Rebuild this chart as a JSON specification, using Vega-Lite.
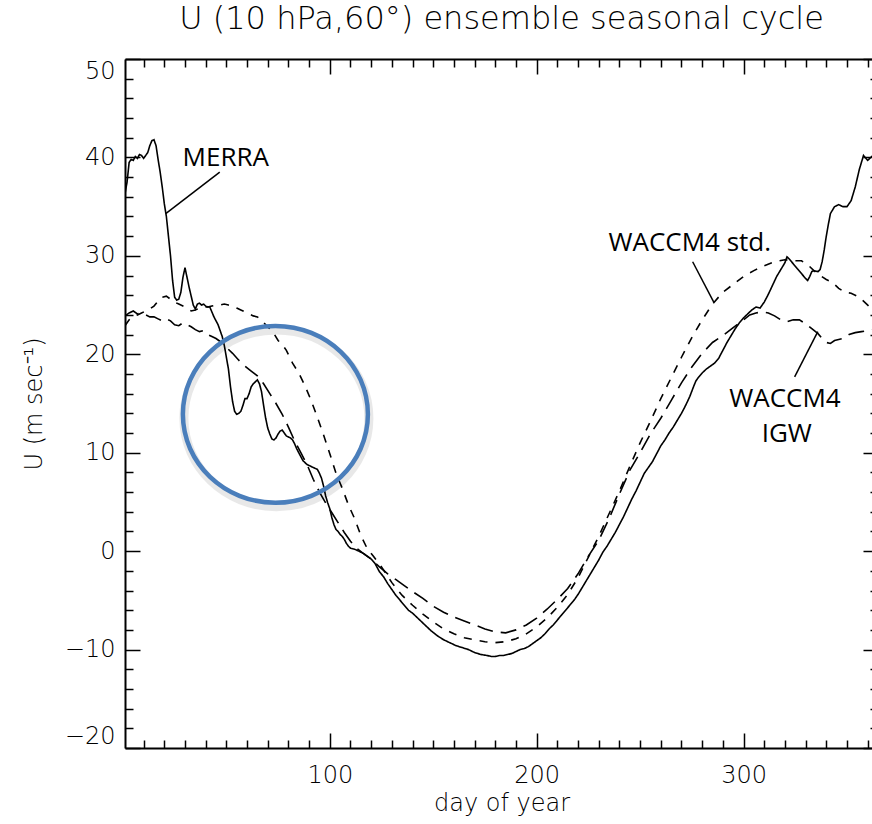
{
  "$schema": "https://vega.github.io/schema/vega-lite/v6.json",
  "autosize": {"type": "none"},
  "padding": {"left": 125, "top": 59, "right": 0, "bottom": 76},
  "width": 753,
  "height": 689,
  "background": "white",
  "title": {
    "text": "U (10 hPa,60°) ensemble seasonal cycle",
    "font": "DejaVu Sans",
    "fontSize": 32,
    "fontWeight": 200,
    "color": "black",
    "anchor": "middle",
    "frame": "group",
    "baseline": "alphabetic",
    "offset": -3
  },
  "config": {
    "view": {"stroke": null},
    "axis": {
      "domainColor": "black",
      "domainWidth": 2,
      "tickColor": "black",
      "tickWidth": 1.5,
      "labelColor": "black",
      "labelFont": "DejaVu Sans",
      "labelFontWeight": 200,
      "labelFontSize": 24,
      "titleFont": "DejaVu Sans",
      "titleFontWeight": 200,
      "titleFontSize": 24,
      "titleColor": "black",
      "grid": false
    }
  },
  "datasets": {
    "curves": [
      {"series": "MERRA", "day": 1, "u": 36.3}, {"series": "MERRA", "day": 2, "u": 37.5}, {"series": "MERRA", "day": 3, "u": 39.5}, {"series": "MERRA", "day": 4, "u": 39.8}, {"series": "MERRA", "day": 5, "u": 39.7}, {"series": "MERRA", "day": 6, "u": 40.1}, {"series": "MERRA", "day": 7, "u": 39.9}, {"series": "MERRA", "day": 8, "u": 40.3}, {"series": "MERRA", "day": 9, "u": 40.2}, {"series": "MERRA", "day": 10, "u": 39.9}, {"series": "MERRA", "day": 11, "u": 40.2}, {"series": "MERRA", "day": 12, "u": 40.5}, {"series": "MERRA", "day": 13, "u": 41.2}, {"series": "MERRA", "day": 14, "u": 41.7}, {"series": "MERRA", "day": 15, "u": 41.8}, {"series": "MERRA", "day": 16, "u": 41.2}, {"series": "MERRA", "day": 17, "u": 39.8}, {"series": "MERRA", "day": 18, "u": 38.5}, {"series": "MERRA", "day": 19, "u": 37.0}, {"series": "MERRA", "day": 20, "u": 35.3}, {"series": "MERRA", "day": 21, "u": 34.0}, {"series": "MERRA", "day": 22, "u": 32.0}, {"series": "MERRA", "day": 23, "u": 30.0}, {"series": "MERRA", "day": 24, "u": 27.5}, {"series": "MERRA", "day": 25, "u": 25.8}, {"series": "MERRA", "day": 26, "u": 25.5}, {"series": "MERRA", "day": 27, "u": 25.6}, {"series": "MERRA", "day": 28, "u": 26.3}, {"series": "MERRA", "day": 29, "u": 27.8}, {"series": "MERRA", "day": 30, "u": 28.8}, {"series": "MERRA", "day": 31, "u": 27.8}, {"series": "MERRA", "day": 32, "u": 26.8}, {"series": "MERRA", "day": 33, "u": 25.9}, {"series": "MERRA", "day": 34, "u": 25.0}, {"series": "MERRA", "day": 35, "u": 24.6}, {"series": "MERRA", "day": 36, "u": 25.1}, {"series": "MERRA", "day": 37, "u": 25.2}, {"series": "MERRA", "day": 38, "u": 25.0}, {"series": "MERRA", "day": 39, "u": 25.1}, {"series": "MERRA", "day": 40, "u": 24.9}, {"series": "MERRA", "day": 41, "u": 24.8}, {"series": "MERRA", "day": 42, "u": 24.8}, {"series": "MERRA", "day": 43, "u": 24.3}, {"series": "MERRA", "day": 44, "u": 23.8}, {"series": "MERRA", "day": 45, "u": 23.4}, {"series": "MERRA", "day": 46, "u": 23.0}, {"series": "MERRA", "day": 47, "u": 22.4}, {"series": "MERRA", "day": 48, "u": 21.8}, {"series": "MERRA", "day": 49, "u": 20.9}, {"series": "MERRA", "day": 50, "u": 19.7}, {"series": "MERRA", "day": 51, "u": 18.5}, {"series": "MERRA", "day": 52, "u": 16.7}, {"series": "MERRA", "day": 53, "u": 15.2}, {"series": "MERRA", "day": 54, "u": 14.2}, {"series": "MERRA", "day": 55, "u": 13.9}, {"series": "MERRA", "day": 56, "u": 14.0}, {"series": "MERRA", "day": 57, "u": 14.2}, {"series": "MERRA", "day": 58, "u": 14.8}, {"series": "MERRA", "day": 59, "u": 15.5}, {"series": "MERRA", "day": 60, "u": 15.5}, {"series": "MERRA", "day": 61, "u": 16.0}, {"series": "MERRA", "day": 62, "u": 16.7}, {"series": "MERRA", "day": 63, "u": 17.0}, {"series": "MERRA", "day": 64, "u": 17.2}, {"series": "MERRA", "day": 65, "u": 17.4}, {"series": "MERRA", "day": 66, "u": 17.0}, {"series": "MERRA", "day": 67, "u": 16.2}, {"series": "MERRA", "day": 68, "u": 14.8}, {"series": "MERRA", "day": 69, "u": 13.5}, {"series": "MERRA", "day": 70, "u": 12.5}, {"series": "MERRA", "day": 71, "u": 11.9}, {"series": "MERRA", "day": 72, "u": 11.4}, {"series": "MERRA", "day": 73, "u": 11.3}, {"series": "MERRA", "day": 74, "u": 11.5}, {"series": "MERRA", "day": 75, "u": 11.9}, {"series": "MERRA", "day": 76, "u": 12.2}, {"series": "MERRA", "day": 77, "u": 12.3}, {"series": "MERRA", "day": 78, "u": 12.0}, {"series": "MERRA", "day": 79, "u": 11.7}, {"series": "MERRA", "day": 80, "u": 11.6}, {"series": "MERRA", "day": 81, "u": 11.5}, {"series": "MERRA", "day": 82, "u": 11.3}, {"series": "MERRA", "day": 83, "u": 10.9}, {"series": "MERRA", "day": 84, "u": 10.4}, {"series": "MERRA", "day": 85, "u": 10.0}, {"series": "MERRA", "day": 86, "u": 9.6}, {"series": "MERRA", "day": 87, "u": 9.2}, {"series": "MERRA", "day": 88, "u": 9.0}, {"series": "MERRA", "day": 89, "u": 8.8}, {"series": "MERRA", "day": 90, "u": 8.7}, {"series": "MERRA", "day": 92, "u": 8.5}, {"series": "MERRA", "day": 94, "u": 8.3}, {"series": "MERRA", "day": 95, "u": 7.9}, {"series": "MERRA", "day": 96, "u": 7.4}, {"series": "MERRA", "day": 97, "u": 6.6}, {"series": "MERRA", "day": 98, "u": 5.6}, {"series": "MERRA", "day": 99, "u": 4.9}, {"series": "MERRA", "day": 100, "u": 4.3}, {"series": "MERRA", "day": 101, "u": 3.4}, {"series": "MERRA", "day": 102, "u": 2.7}, {"series": "MERRA", "day": 103, "u": 2.2}, {"series": "MERRA", "day": 104, "u": 2.0}, {"series": "MERRA", "day": 105, "u": 1.7}, {"series": "MERRA", "day": 106, "u": 1.5}, {"series": "MERRA", "day": 107, "u": 1.2}, {"series": "MERRA", "day": 108, "u": 0.8}, {"series": "MERRA", "day": 109, "u": 0.5}, {"series": "MERRA", "day": 110, "u": 0.3}, {"series": "MERRA", "day": 112, "u": 0.2}, {"series": "MERRA", "day": 114, "u": 0.0}, {"series": "MERRA", "day": 116, "u": -0.2}, {"series": "MERRA", "day": 118, "u": -0.5}, {"series": "MERRA", "day": 120, "u": -0.8}, {"series": "MERRA", "day": 122, "u": -1.3}, {"series": "MERRA", "day": 124, "u": -2.1}, {"series": "MERRA", "day": 126, "u": -2.6}, {"series": "MERRA", "day": 128, "u": -3.3}, {"series": "MERRA", "day": 130, "u": -3.9}, {"series": "MERRA", "day": 132, "u": -4.5}, {"series": "MERRA", "day": 134, "u": -5.0}, {"series": "MERRA", "day": 136, "u": -5.5}, {"series": "MERRA", "day": 138, "u": -6.0}, {"series": "MERRA", "day": 140, "u": -6.3}, {"series": "MERRA", "day": 143, "u": -6.9}, {"series": "MERRA", "day": 146, "u": -7.5}, {"series": "MERRA", "day": 149, "u": -8.1}, {"series": "MERRA", "day": 152, "u": -8.6}, {"series": "MERRA", "day": 155, "u": -9.0}, {"series": "MERRA", "day": 158, "u": -9.3}, {"series": "MERRA", "day": 161, "u": -9.6}, {"series": "MERRA", "day": 164, "u": -9.8}, {"series": "MERRA", "day": 167, "u": -10.0}, {"series": "MERRA", "day": 170, "u": -10.3}, {"series": "MERRA", "day": 173, "u": -10.5}, {"series": "MERRA", "day": 176, "u": -10.6}, {"series": "MERRA", "day": 178, "u": -10.7}, {"series": "MERRA", "day": 180, "u": -10.7}, {"series": "MERRA", "day": 182, "u": -10.6}, {"series": "MERRA", "day": 184, "u": -10.6}, {"series": "MERRA", "day": 186, "u": -10.5}, {"series": "MERRA", "day": 188, "u": -10.4}, {"series": "MERRA", "day": 190, "u": -10.2}, {"series": "MERRA", "day": 192, "u": -10.0}, {"series": "MERRA", "day": 194, "u": -9.9}, {"series": "MERRA", "day": 196, "u": -9.7}, {"series": "MERRA", "day": 198, "u": -9.4}, {"series": "MERRA", "day": 200, "u": -9.1}, {"series": "MERRA", "day": 202, "u": -8.8}, {"series": "MERRA", "day": 204, "u": -8.4}, {"series": "MERRA", "day": 206, "u": -7.9}, {"series": "MERRA", "day": 208, "u": -7.5}, {"series": "MERRA", "day": 210, "u": -7.0}, {"series": "MERRA", "day": 212, "u": -6.5}, {"series": "MERRA", "day": 214, "u": -6.0}, {"series": "MERRA", "day": 216, "u": -5.5}, {"series": "MERRA", "day": 218, "u": -5.0}, {"series": "MERRA", "day": 220, "u": -4.4}, {"series": "MERRA", "day": 222, "u": -3.7}, {"series": "MERRA", "day": 224, "u": -3.0}, {"series": "MERRA", "day": 226, "u": -2.3}, {"series": "MERRA", "day": 228, "u": -1.6}, {"series": "MERRA", "day": 230, "u": -0.9}, {"series": "MERRA", "day": 232, "u": -0.1}, {"series": "MERRA", "day": 234, "u": 0.5}, {"series": "MERRA", "day": 236, "u": 1.2}, {"series": "MERRA", "day": 238, "u": 1.9}, {"series": "MERRA", "day": 240, "u": 2.7}, {"series": "MERRA", "day": 242, "u": 3.5}, {"series": "MERRA", "day": 244, "u": 4.4}, {"series": "MERRA", "day": 246, "u": 5.3}, {"series": "MERRA", "day": 248, "u": 6.1}, {"series": "MERRA", "day": 250, "u": 7.0}, {"series": "MERRA", "day": 252, "u": 7.9}, {"series": "MERRA", "day": 254, "u": 8.5}, {"series": "MERRA", "day": 256, "u": 9.1}, {"series": "MERRA", "day": 258, "u": 9.9}, {"series": "MERRA", "day": 260, "u": 10.7}, {"series": "MERRA", "day": 262, "u": 11.3}, {"series": "MERRA", "day": 264, "u": 12.0}, {"series": "MERRA", "day": 266, "u": 12.6}, {"series": "MERRA", "day": 268, "u": 13.3}, {"series": "MERRA", "day": 270, "u": 14.0}, {"series": "MERRA", "day": 272, "u": 14.8}, {"series": "MERRA", "day": 274, "u": 15.7}, {"series": "MERRA", "day": 276, "u": 16.8}, {"series": "MERRA", "day": 277, "u": 17.3}, {"series": "MERRA", "day": 278, "u": 17.6}, {"series": "MERRA", "day": 280, "u": 18.1}, {"series": "MERRA", "day": 282, "u": 18.5}, {"series": "MERRA", "day": 284, "u": 18.8}, {"series": "MERRA", "day": 286, "u": 19.1}, {"series": "MERRA", "day": 288, "u": 19.6}, {"series": "MERRA", "day": 290, "u": 20.4}, {"series": "MERRA", "day": 292, "u": 21.2}, {"series": "MERRA", "day": 294, "u": 21.9}, {"series": "MERRA", "day": 296, "u": 22.6}, {"series": "MERRA", "day": 298, "u": 23.2}, {"series": "MERRA", "day": 300, "u": 23.7}, {"series": "MERRA", "day": 302, "u": 24.1}, {"series": "MERRA", "day": 304, "u": 24.5}, {"series": "MERRA", "day": 306, "u": 24.8}, {"series": "MERRA", "day": 308, "u": 24.7}, {"series": "MERRA", "day": 310, "u": 25.3}, {"series": "MERRA", "day": 312, "u": 26.1}, {"series": "MERRA", "day": 314, "u": 27.0}, {"series": "MERRA", "day": 316, "u": 27.9}, {"series": "MERRA", "day": 318, "u": 28.6}, {"series": "MERRA", "day": 320, "u": 29.3}, {"series": "MERRA", "day": 321, "u": 29.9}, {"series": "MERRA", "day": 322, "u": 29.7}, {"series": "MERRA", "day": 324, "u": 29.2}, {"series": "MERRA", "day": 326, "u": 28.7}, {"series": "MERRA", "day": 328, "u": 28.2}, {"series": "MERRA", "day": 330, "u": 27.7}, {"series": "MERRA", "day": 331, "u": 27.5}, {"series": "MERRA", "day": 332, "u": 27.9}, {"series": "MERRA", "day": 333, "u": 28.4}, {"series": "MERRA", "day": 334, "u": 28.5}, {"series": "MERRA", "day": 336, "u": 28.4}, {"series": "MERRA", "day": 337, "u": 28.6}, {"series": "MERRA", "day": 338, "u": 29.4}, {"series": "MERRA", "day": 339, "u": 30.6}, {"series": "MERRA", "day": 340, "u": 32.0}, {"series": "MERRA", "day": 341, "u": 33.2}, {"series": "MERRA", "day": 342, "u": 34.3}, {"series": "MERRA", "day": 344, "u": 35.0}, {"series": "MERRA", "day": 346, "u": 35.2}, {"series": "MERRA", "day": 348, "u": 35.0}, {"series": "MERRA", "day": 350, "u": 35.0}, {"series": "MERRA", "day": 352, "u": 35.6}, {"series": "MERRA", "day": 354, "u": 37.0}, {"series": "MERRA", "day": 356, "u": 38.8}, {"series": "MERRA", "day": 358, "u": 40.2}, {"series": "MERRA", "day": 360, "u": 39.7}, {"series": "MERRA", "day": 362, "u": 40.1}, {"series": "MERRA", "day": 365, "u": 40.0},
      {"series": "IGW", "day": 1, "u": 23.9}, {"series": "IGW", "day": 3, "u": 24.2}, {"series": "IGW", "day": 5, "u": 24.4}, {"series": "IGW", "day": 7, "u": 24.1}, {"series": "IGW", "day": 9, "u": 24.2}, {"series": "IGW", "day": 11, "u": 24.0}, {"series": "IGW", "day": 13, "u": 23.8}, {"series": "IGW", "day": 15, "u": 23.8}, {"series": "IGW", "day": 17, "u": 23.6}, {"series": "IGW", "day": 19, "u": 23.4}, {"series": "IGW", "day": 21, "u": 23.6}, {"series": "IGW", "day": 23, "u": 23.4}, {"series": "IGW", "day": 25, "u": 23.0}, {"series": "IGW", "day": 27, "u": 22.9}, {"series": "IGW", "day": 29, "u": 23.2}, {"series": "IGW", "day": 31, "u": 23.0}, {"series": "IGW", "day": 33, "u": 22.8}, {"series": "IGW", "day": 35, "u": 22.5}, {"series": "IGW", "day": 37, "u": 22.3}, {"series": "IGW", "day": 39, "u": 22.4}, {"series": "IGW", "day": 41, "u": 22.0}, {"series": "IGW", "day": 43, "u": 21.8}, {"series": "IGW", "day": 45, "u": 21.6}, {"series": "IGW", "day": 47, "u": 21.3}, {"series": "IGW", "day": 50, "u": 20.7}, {"series": "IGW", "day": 53, "u": 20.1}, {"series": "IGW", "day": 56, "u": 19.4}, {"series": "IGW", "day": 59, "u": 18.8}, {"series": "IGW", "day": 62, "u": 18.3}, {"series": "IGW", "day": 65, "u": 17.8}, {"series": "IGW", "day": 68, "u": 17.0}, {"series": "IGW", "day": 71, "u": 16.0}, {"series": "IGW", "day": 74, "u": 15.0}, {"series": "IGW", "day": 77, "u": 13.9}, {"series": "IGW", "day": 80, "u": 12.6}, {"series": "IGW", "day": 83, "u": 11.2}, {"series": "IGW", "day": 86, "u": 10.0}, {"series": "IGW", "day": 89, "u": 8.8}, {"series": "IGW", "day": 92, "u": 7.3}, {"series": "IGW", "day": 95, "u": 6.0}, {"series": "IGW", "day": 98, "u": 4.9}, {"series": "IGW", "day": 101, "u": 3.9}, {"series": "IGW", "day": 104, "u": 2.9}, {"series": "IGW", "day": 107, "u": 1.9}, {"series": "IGW", "day": 110, "u": 1.0}, {"series": "IGW", "day": 113, "u": 0.3}, {"series": "IGW", "day": 116, "u": -0.2}, {"series": "IGW", "day": 120, "u": -0.8}, {"series": "IGW", "day": 124, "u": -1.6}, {"series": "IGW", "day": 128, "u": -2.3}, {"series": "IGW", "day": 132, "u": -2.9}, {"series": "IGW", "day": 136, "u": -3.5}, {"series": "IGW", "day": 140, "u": -4.1}, {"series": "IGW", "day": 145, "u": -4.8}, {"series": "IGW", "day": 150, "u": -5.6}, {"series": "IGW", "day": 155, "u": -6.2}, {"series": "IGW", "day": 160, "u": -6.7}, {"series": "IGW", "day": 165, "u": -7.1}, {"series": "IGW", "day": 170, "u": -7.5}, {"series": "IGW", "day": 175, "u": -7.9}, {"series": "IGW", "day": 180, "u": -8.2}, {"series": "IGW", "day": 185, "u": -8.3}, {"series": "IGW", "day": 190, "u": -8.0}, {"series": "IGW", "day": 195, "u": -7.5}, {"series": "IGW", "day": 200, "u": -6.8}, {"series": "IGW", "day": 205, "u": -5.9}, {"series": "IGW", "day": 210, "u": -4.9}, {"series": "IGW", "day": 215, "u": -3.8}, {"series": "IGW", "day": 220, "u": -2.3}, {"series": "IGW", "day": 225, "u": -0.5}, {"series": "IGW", "day": 230, "u": 1.1}, {"series": "IGW", "day": 235, "u": 3.3}, {"series": "IGW", "day": 240, "u": 5.8}, {"series": "IGW", "day": 245, "u": 8.2}, {"series": "IGW", "day": 250, "u": 10.0}, {"series": "IGW", "day": 255, "u": 11.9}, {"series": "IGW", "day": 260, "u": 13.5}, {"series": "IGW", "day": 265, "u": 15.3}, {"series": "IGW", "day": 270, "u": 17.1}, {"series": "IGW", "day": 275, "u": 18.7}, {"series": "IGW", "day": 280, "u": 20.1}, {"series": "IGW", "day": 285, "u": 21.2}, {"series": "IGW", "day": 290, "u": 21.9}, {"series": "IGW", "day": 295, "u": 22.7}, {"series": "IGW", "day": 300, "u": 23.5}, {"series": "IGW", "day": 303, "u": 24.0}, {"series": "IGW", "day": 306, "u": 24.2}, {"series": "IGW", "day": 309, "u": 24.3}, {"series": "IGW", "day": 312, "u": 24.2}, {"series": "IGW", "day": 315, "u": 23.9}, {"series": "IGW", "day": 318, "u": 23.5}, {"series": "IGW", "day": 321, "u": 23.3}, {"series": "IGW", "day": 324, "u": 23.5}, {"series": "IGW", "day": 327, "u": 23.5}, {"series": "IGW", "day": 330, "u": 23.1}, {"series": "IGW", "day": 333, "u": 22.6}, {"series": "IGW", "day": 336, "u": 22.1}, {"series": "IGW", "day": 338, "u": 21.6}, {"series": "IGW", "day": 340, "u": 21.2}, {"series": "IGW", "day": 342, "u": 21.1}, {"series": "IGW", "day": 344, "u": 21.4}, {"series": "IGW", "day": 346, "u": 21.5}, {"series": "IGW", "day": 348, "u": 21.6}, {"series": "IGW", "day": 351, "u": 22.0}, {"series": "IGW", "day": 354, "u": 22.2}, {"series": "IGW", "day": 357, "u": 22.3}, {"series": "IGW", "day": 360, "u": 22.4}, {"series": "IGW", "day": 365, "u": 22.6},
      {"series": "std", "day": 1, "u": 22.9}, {"series": "std", "day": 3, "u": 23.5}, {"series": "std", "day": 5, "u": 23.8}, {"series": "std", "day": 7, "u": 24.0}, {"series": "std", "day": 9, "u": 24.2}, {"series": "std", "day": 11, "u": 24.4}, {"series": "std", "day": 13, "u": 24.6}, {"series": "std", "day": 15, "u": 24.9}, {"series": "std", "day": 17, "u": 25.4}, {"series": "std", "day": 19, "u": 25.8}, {"series": "std", "day": 21, "u": 25.9}, {"series": "std", "day": 23, "u": 25.6}, {"series": "std", "day": 25, "u": 25.3}, {"series": "std", "day": 27, "u": 25.1}, {"series": "std", "day": 29, "u": 24.9}, {"series": "std", "day": 31, "u": 24.7}, {"series": "std", "day": 33, "u": 24.4}, {"series": "std", "day": 35, "u": 24.5}, {"series": "std", "day": 37, "u": 24.7}, {"series": "std", "day": 39, "u": 24.8}, {"series": "std", "day": 41, "u": 24.8}, {"series": "std", "day": 43, "u": 24.9}, {"series": "std", "day": 45, "u": 25.0}, {"series": "std", "day": 47, "u": 25.0}, {"series": "std", "day": 49, "u": 25.1}, {"series": "std", "day": 51, "u": 25.0}, {"series": "std", "day": 53, "u": 24.9}, {"series": "std", "day": 55, "u": 24.7}, {"series": "std", "day": 57, "u": 24.5}, {"series": "std", "day": 59, "u": 24.3}, {"series": "std", "day": 61, "u": 24.1}, {"series": "std", "day": 63, "u": 23.9}, {"series": "std", "day": 65, "u": 23.8}, {"series": "std", "day": 67, "u": 23.5}, {"series": "std", "day": 69, "u": 23.0}, {"series": "std", "day": 71, "u": 22.6}, {"series": "std", "day": 73, "u": 22.1}, {"series": "std", "day": 75, "u": 21.4}, {"series": "std", "day": 77, "u": 21.0}, {"series": "std", "day": 79, "u": 20.4}, {"series": "std", "day": 82, "u": 19.1}, {"series": "std", "day": 85, "u": 18.1}, {"series": "std", "day": 88, "u": 16.8}, {"series": "std", "day": 91, "u": 15.3}, {"series": "std", "day": 94, "u": 13.6}, {"series": "std", "day": 97, "u": 11.8}, {"series": "std", "day": 100, "u": 9.9}, {"series": "std", "day": 103, "u": 7.9}, {"series": "std", "day": 106, "u": 6.4}, {"series": "std", "day": 109, "u": 4.7}, {"series": "std", "day": 112, "u": 3.3}, {"series": "std", "day": 115, "u": 1.6}, {"series": "std", "day": 118, "u": 0.3}, {"series": "std", "day": 121, "u": -0.5}, {"series": "std", "day": 125, "u": -1.6}, {"series": "std", "day": 130, "u": -3.2}, {"series": "std", "day": 135, "u": -4.5}, {"series": "std", "day": 140, "u": -5.5}, {"series": "std", "day": 145, "u": -6.4}, {"series": "std", "day": 150, "u": -7.2}, {"series": "std", "day": 155, "u": -7.9}, {"series": "std", "day": 160, "u": -8.4}, {"series": "std", "day": 165, "u": -8.8}, {"series": "std", "day": 170, "u": -9.0}, {"series": "std", "day": 175, "u": -9.2}, {"series": "std", "day": 180, "u": -9.3}, {"series": "std", "day": 185, "u": -9.2}, {"series": "std", "day": 190, "u": -8.9}, {"series": "std", "day": 195, "u": -8.4}, {"series": "std", "day": 200, "u": -7.7}, {"series": "std", "day": 205, "u": -6.8}, {"series": "std", "day": 210, "u": -5.7}, {"series": "std", "day": 215, "u": -4.4}, {"series": "std", "day": 220, "u": -2.7}, {"series": "std", "day": 225, "u": -0.6}, {"series": "std", "day": 230, "u": 1.5}, {"series": "std", "day": 235, "u": 3.8}, {"series": "std", "day": 240, "u": 6.1}, {"series": "std", "day": 245, "u": 8.6}, {"series": "std", "day": 250, "u": 11.0}, {"series": "std", "day": 255, "u": 13.2}, {"series": "std", "day": 260, "u": 15.5}, {"series": "std", "day": 265, "u": 17.6}, {"series": "std", "day": 270, "u": 19.7}, {"series": "std", "day": 275, "u": 21.7}, {"series": "std", "day": 280, "u": 23.5}, {"series": "std", "day": 285, "u": 25.1}, {"series": "std", "day": 290, "u": 26.3}, {"series": "std", "day": 295, "u": 27.1}, {"series": "std", "day": 300, "u": 27.9}, {"series": "std", "day": 305, "u": 28.5}, {"series": "std", "day": 310, "u": 29.0}, {"series": "std", "day": 315, "u": 29.4}, {"series": "std", "day": 320, "u": 29.6}, {"series": "std", "day": 325, "u": 29.5}, {"series": "std", "day": 328, "u": 29.5}, {"series": "std", "day": 331, "u": 29.1}, {"series": "std", "day": 334, "u": 28.5}, {"series": "std", "day": 337, "u": 28.0}, {"series": "std", "day": 340, "u": 27.6}, {"series": "std", "day": 343, "u": 27.3}, {"series": "std", "day": 346, "u": 26.7}, {"series": "std", "day": 349, "u": 26.3}, {"series": "std", "day": 352, "u": 26.2}, {"series": "std", "day": 355, "u": 25.9}, {"series": "std", "day": 358, "u": 25.4}, {"series": "std", "day": 361, "u": 24.8}, {"series": "std", "day": 365, "u": 24.5}
    ],
    "leaders": [
      {"x": 46.8, "y": 38.5, "x2": 20.7, "y2": 34.3},
      {"x": 275.4, "y": 29.4, "x2": 285.6, "y2": 25.3},
      {"x": 324.7, "y": 17.7, "x2": 335.9, "y2": 22.3}
    ],
    "labels": [
      {"x": 49.7, "y": 39.9, "text": "MERRA"},
      {"x": 274, "y": 31.3, "text": "WACCM4 std."},
      {"x": 320, "y": 15.5, "text": "WACCM4"},
      {"x": 320.9, "y": 11.9, "text": "IGW"}
    ],
    "circle": [{"x": 73.7, "y": 13.9}]
  },
  "layer": [
    {
      "data": {"name": "circle"},
      "mark": {"type": "point", "shape": "M-1,0A1,0.956,0,1,1,1,0A1,0.956,0,1,1,-1,0Z", "size": 34225, "filled": false, "stroke": "#9a9a9a", "strokeWidth": 9, "opacity": 0.22, "yOffset": 4, "xOffset": 1},
      "encoding": {
        "x": {"field": "x", "type": "quantitative", "axis": null},
        "y": {"field": "y", "type": "quantitative", "axis": null}
      }
    },
    {
      "data": {"name": "curves"},
      "mark": {"type": "line", "color": "black", "strokeWidth": 1.6, "clip": true},
      "encoding": {
        "x": {
          "field": "day", "type": "quantitative",
          "scale": {"domain": [1, 365], "nice": false, "zero": false},
          "axis": {
            "orient": "bottom",
            "title": "day of year",
            "titlePadding": 4,
            "values": [10,20,30,40,50,60,70,80,90,100,110,120,130,140,150,160,170,180,190,200,210,220,230,240,250,260,270,280,290,300,310,320,330,340,350,360],
            "tickSize": {"condition": {"test": "datum.value % 100 === 0", "value": -15}, "value": -8},
            "labelExpr": "datum.value % 100 === 0 ? datum.label : ''",
            "labelPadding": 30
          }
        },
        "y": {
          "field": "u", "type": "quantitative",
          "scale": {"domain": [-20, 50], "nice": false, "zero": false},
          "axis": {
            "orient": "left",
            "title": "U (m sec⁻¹)",
            "titlePadding": 18,
            "values": [-20,-18,-16,-14,-12,-10,-8,-6,-4,-2,0,2,4,6,8,10,12,14,16,18,20,22,24,26,28,30,32,34,36,38,40,42,44,46,48,50],
            "tickSize": {"condition": {"test": "datum.value % 10 === 0", "value": -15}, "value": -8},
            "labelExpr": "datum.value % 10 === 0 ? datum.label : ''",
            "labelFlush": true,
            "labelPadding": 25
          }
        },
        "strokeDash": {
          "field": "series", "type": "nominal",
          "scale": {"domain": ["MERRA", "IGW", "std"], "range": [[1, 0], [16, 8], [8, 8]]},
          "legend": null
        },
        "detail": {"field": "series"}
      }
    },
    {
      "data": {"name": "leaders"},
      "mark": {"type": "rule", "color": "black", "strokeWidth": 1.5},
      "encoding": {
        "x": {"field": "x", "type": "quantitative", "axis": {"orient": "top", "title": null, "labels": false, "values": [10,20,30,40,50,60,70,80,90,100,110,120,130,140,150,160,170,180,190,200,210,220,230,240,250,260,270,280,290,300,310,320,330,340,350,360], "tickSize": {"condition": {"test": "datum.value % 100 === 0", "value": -15}, "value": -8}}},
        "y": {"field": "y", "type": "quantitative", "axis": {"orient": "right", "title": null, "labels": false, "values": [-20,-18,-16,-14,-12,-10,-8,-6,-4,-2,0,2,4,6,8,10,12,14,16,18,20,22,24,26,28,30,32,34,36,38,40,42,44,46,48,50], "tickSize": {"condition": {"test": "datum.value % 10 === 0", "value": -15}, "value": -8}}},
        "x2": {"field": "x2"},
        "y2": {"field": "y2"}
      }
    },
    {
      "data": {"name": "labels"},
      "mark": {"type": "text", "font": "Open Sans", "fontSize": 26, "color": "black", "align": "center", "baseline": "middle"},
      "encoding": {
        "x": {"field": "x", "type": "quantitative", "axis": null},
        "y": {"field": "y", "type": "quantitative", "axis": null},
        "text": {"field": "text"}
      }
    },
    {
      "data": {"name": "circle"},
      "mark": {"type": "point", "shape": "M-1,0A1,0.956,0,1,1,1,0A1,0.956,0,1,1,-1,0Z", "size": 34225, "filled": false, "stroke": "#4a7ebb", "strokeWidth": 4.5, "opacity": 1},
      "encoding": {
        "x": {"field": "x", "type": "quantitative", "axis": null},
        "y": {"field": "y", "type": "quantitative", "axis": null}
      }
    }
  ],
  "resolve": {"axis": {"x": "independent", "y": "independent"}}
}
